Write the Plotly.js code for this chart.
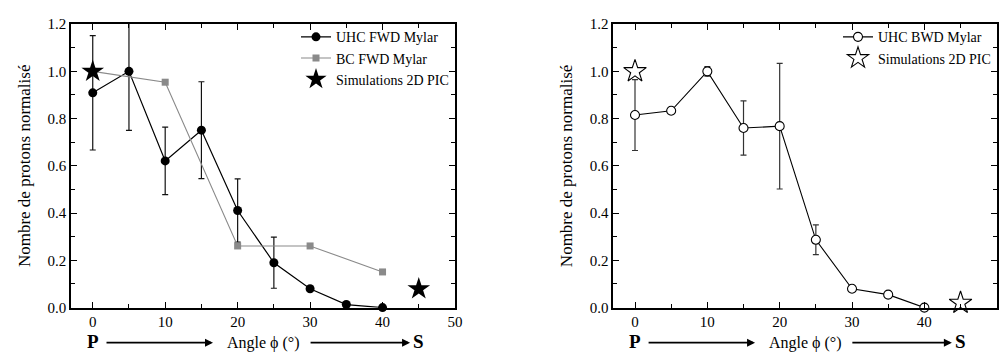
<!DOCTYPE html>
<html>
<head>
<meta charset="utf-8">
<script src="https://cdn.plot.ly/plotly-3.0.1.min.js"></script>
<style>html,body{margin:0;padding:0;background:#fff;}#chart{width:1000px;height:354px;}</style>
</head>
<body>
<div id="chart"></div>
<script>
// Angles (degrees)
const angles = [0, 5, 10, 15, 20, 25, 30, 35, 40];
// Left panel: UHC FWD Mylar
const uhcFwd = [0.909, 1.0, 0.621, 0.751, 0.411, 0.19, 0.08, 0.013, 0.0];
const uhcFwdErr = [0.242, 0.25, 0.143, 0.205, 0.134, 0.108, 0, 0, 0];
// Left panel: BC FWD Mylar
const bcAngles = [0, 10, 20, 30, 40];
const bcFwd = [1.0, 0.954, 0.261, 0.261, 0.151];
// Simulations 2D PIC
const simAngles = [0, 45];
const simFwd = [1.0, 0.079];
const simBwd = [1.0, 0.02];
// Right panel: UHC BWD Mylar
const uhcBwd = [0.815, 0.833, 1.0, 0.76, 0.768, 0.287, 0.08, 0.055, 0.0];
const uhcBwdErr = [0.15, 0, 0.02, 0.115, 0.266, 0.063, 0, 0, 0];

const FONT = 'Liberation Serif';

const traces = [
  {x: angles, y: uhcFwd, xaxis: 'x', yaxis: 'y', mode: 'lines+markers', name: 'UHC FWD Mylar',
   line: {color: '#000', width: 1.2}, marker: {symbol: 'circle', size: 9, color: '#000'},
   error_y: {type: 'data', array: uhcFwdErr, visible: true, color: '#111', thickness: 1.2, width: 3}, legend: 'legend', cliponaxis: false},
  {x: bcAngles, y: bcFwd, xaxis: 'x', yaxis: 'y', mode: 'lines+markers', name: 'BC FWD Mylar',
   line: {color: '#8a8a8a', width: 1.1}, marker: {symbol: 'square', size: 7, color: '#8a8a8a'}, legend: 'legend', cliponaxis: false},
  {x: simAngles, y: simFwd, xaxis: 'x', yaxis: 'y', mode: 'markers', name: 'Simulations 2D PIC',
   marker: {symbol: 'star', size: 17, color: '#000'}, legend: 'legend', cliponaxis: false},
  {x: angles, y: uhcBwd, xaxis: 'x2', yaxis: 'y2', mode: 'lines+markers', name: 'UHC BWD Mylar',
   line: {color: '#000', width: 1.1}, marker: {symbol: 'circle', size: 9, color: '#fff', line: {color: '#000', width: 1.1}},
   error_y: {type: 'data', array: uhcBwdErr, visible: true, color: '#333', thickness: 1.2, width: 3}, legend: 'legend2', cliponaxis: false},
  {x: simAngles, y: simBwd, xaxis: 'x2', yaxis: 'y2', mode: 'markers', name: 'Simulations 2D PIC',
   marker: {symbol: 'star-open', size: 17, color: '#000', line: {width: 1.1}}, legend: 'legend2', cliponaxis: false}
];

function xax(domain, anchor) {
  return {domain: domain, anchor: anchor, range: [-3, 50], tick0: 0, dtick: 10,
    showline: true, linecolor: 'black', linewidth: 1.5, mirror: 'ticks', ticks: 'inside', ticklen: 6, tickwidth: 1.3,
    tickcolor: 'black', showgrid: false, zeroline: false, tickfont: {family: FONT, size: 15, color: 'black'},
    minor: {dtick: 5, ticks: 'inside', ticklen: 4, tickcolor: 'black'}};
}
function yax(anchor) {
  return {domain: [0.131, 0.932], anchor: anchor, range: [0, 1.2], tick0: 0, dtick: 0.2, tickformat: '.1f',
    showline: true, linecolor: 'black', linewidth: 1.5, mirror: 'ticks', ticks: 'inside', ticklen: 6, tickwidth: 1.3,
    tickcolor: 'black', showgrid: false, zeroline: false, tickfont: {family: FONT, size: 15, color: 'black'},
    title: {text: 'Nombre de protons normalisé', font: {family: FONT, size: 17, color: 'black'}, standoff: 13},
    minor: {dtick: 0.1, ticks: 'inside', ticklen: 4, tickcolor: 'black'}};
}

function bottomLabels(xref) {
  return [
    {xref: xref, yref: 'paper', x: 0, y: 0, text: '<b>P</b>', showarrow: false, font: {family: FONT, size: 19, color: 'black'}, yanchor: 'bottom'},
    {xref: xref, yref: 'paper', x: 45, y: 0, text: '<b>S</b>', showarrow: false, font: {family: FONT, size: 19, color: 'black'}, yanchor: 'bottom'},
    {xref: xref, yref: 'paper', x: 23.5, y: 0, text: 'Angle ϕ (°)', showarrow: false, font: {family: FONT, size: 16, color: 'black'}, yanchor: 'bottom'},
    {xref: xref, yref: 'paper', x: 16.6, y: 0.032, ax: -108, ay: 0, text: '', showarrow: true,
     arrowhead: 2, arrowsize: 1, arrowwidth: 1.6, arrowcolor: 'black'},
    {xref: xref, yref: 'paper', x: 43.8, y: 0.032, ax: -101, ay: 0, text: '', showarrow: true,
     arrowhead: 2, arrowsize: 1, arrowwidth: 1.6, arrowcolor: 'black'}
  ];
}

const layout = {
  width: 1000, height: 354, margin: {l: 0, r: 0, t: 0, b: 0},
  font: {family: FONT},
  xaxis: xax([0.071, 0.455], 'y'),
  yaxis: yax('x'),
  xaxis2: xax([0.6133, 0.9967], 'y2'),
  yaxis2: yax('x2'),
  legend: {x: 0.454, xanchor: 'right', y: 0.94, yanchor: 'top', bgcolor: 'rgba(0,0,0,0)',
    font: {family: FONT, size: 14, color: 'black'}},
  legend2: {x: 0.996, xanchor: 'right', y: 0.94, yanchor: 'top', bgcolor: 'rgba(0,0,0,0)',
    font: {family: FONT, size: 14, color: 'black'}},
  annotations: bottomLabels('x').concat(bottomLabels('x2')),
  showlegend: true
};

Plotly.newPlot('chart', traces, layout, {displayModeBar: false});
</script>
</body>
</html>
